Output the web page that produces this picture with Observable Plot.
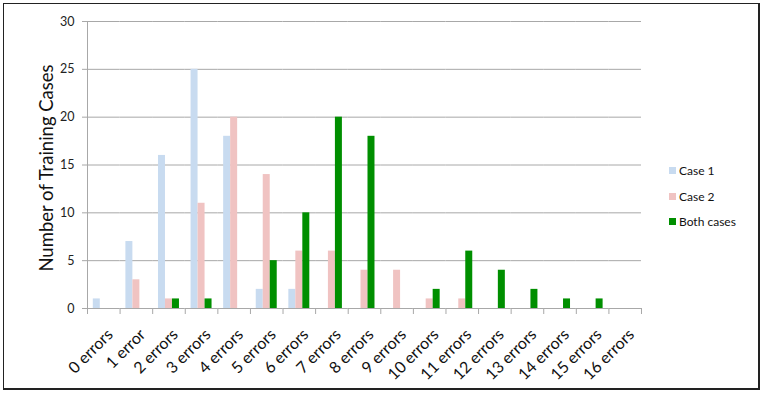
<!DOCTYPE html>
<html>
<head>
<meta charset="utf-8">
<script src="https://cdn.jsdelivr.net/npm/d3@7"></script>
<script src="https://cdn.jsdelivr.net/npm/@observablehq/plot@0.6"></script>
<style>
  html, body { margin: 0; padding: 0; background: #fff; }
  #wrap { position: relative; width: 762px; height: 393px; font-family: Lato, sans-serif; }
  #border { position: absolute; left: 3px; top: 3px; width: 754px; height: 384px; border: 1px solid #222; border-right-width: 2px; border-bottom-width: 2px; box-sizing: content-box; pointer-events: none; }
  #chart { position: absolute; left: 0; top: 0; }
  #legend { position: absolute; left: 669px; top: 158px; font-size: 12px; color: #111; }
  #legend .row { display: flex; align-items: center; height: 25.5px; }
  #legend .sw { width: 7px; height: 7px; margin-right: 3px; }
</style>
</head>
<body>
<div id="wrap">
  <div id="chart"></div>
  <div id="legend"></div>
  <div id="border"></div>
</div>
<script>
const categories = ["0 errors","1 error","2 errors","3 errors","4 errors","5 errors","6 errors","7 errors","8 errors","9 errors","10 errors","11 errors","12 errors","13 errors","14 errors","15 errors","16 errors"];
const seriesNames = ["Case 1", "Case 2", "Both cases"];
const case1 = [1, 7, 16, 25, 18, 2, 2, 0, 0, 0, 0, 0, 0, 0, 0, 0, 0];
const case2 = [0, 3, 1, 11, 20, 14, 6, 6, 4, 4, 1, 1, 0, 0, 0, 0, 0];
const both  = [0, 0, 1, 1, 0, 5, 10, 20, 18, 0, 2, 6, 4, 2, 1, 1, 0];
const yTicks = [0, 5, 10, 15, 20, 25, 30];
const yTitle = "Number of Training Cases";
const colors = ["#c8dbf0", "#f0c3c2", "#008f00"];

const seriesValues = [case1, case2, both];
const data = [];
categories.forEach((c, i) => {
  seriesNames.forEach((s, j) => data.push({cat: c, series: s, value: seriesValues[j][i]}));
});

const W = 762, H = 393, mT = 21, mB = 85, mL = 87, mR = 121;
const plotH = H - mT - mB;

const chart = Plot.plot({
  width: W, height: H,
  marginTop: mT, marginBottom: mB, marginLeft: mL, marginRight: mR,
  style: { fontFamily: "Lato, sans-serif", background: "transparent", color: "#111" },
  fx: { domain: categories, padding: 0, round: false, label: null, axis: null },
  x: { domain: seriesNames, paddingInner: 0, paddingOuter: 0.83, round: false, axis: null },
  y: { domain: [0, 30], label: null },
  color: { domain: seriesNames, range: colors },
  marks: [
    Plot.ruleY(yTicks, { stroke: "#a8a8a8", strokeWidth: 1 }),
    Plot.barY(data, { fx: "cat", x: "series", y: "value", fill: "series" }),
    Plot.frame({ anchor: "left", stroke: "#a8a8a8", insetTop: plotH, insetBottom: -5 }),
    Plot.frame({ anchor: "right", stroke: "#a8a8a8", insetTop: plotH, insetBottom: -5, facetAnchor: "right" }),
    Plot.frame({ anchor: "left", stroke: "#a8a8a8", facetAnchor: "left" }),
    Plot.axisY({ ticks: yTicks, tickSize: 5, stroke: "#a8a8a8", tickFormat: () => "", label: null }),
    Plot.text(yTicks, { y: d => d, frameAnchor: "left", textAnchor: "end", dx: -13, fontSize: 12.5, fill: "#222", facetAnchor: "left" }),
    Plot.text([yTitle], { frameAnchor: "left", textAnchor: "middle", rotate: -90, dx: -35, dy: 3, lineAnchor: "bottom", fontSize: 18.5, fill: "#111", facetAnchor: "left" }),
    Plot.text(categories, { fx: d => d, frameAnchor: "bottom", textAnchor: "end", lineAnchor: "top", rotate: -45, dx: 2, dy: 19, fontSize: 16, fill: "#111" })
  ]
});
document.getElementById("chart").appendChild(chart);

const legend = document.getElementById("legend");
seriesNames.forEach((s, i) => {
  const row = document.createElement("div");
  row.className = "row";
  const sw = document.createElement("div");
  sw.className = "sw";
  sw.style.background = colors[i];
  const tx = document.createElement("span");
  tx.textContent = s;
  row.appendChild(sw); row.appendChild(tx);
  legend.appendChild(row);
});
</script>
</body>
</html>
